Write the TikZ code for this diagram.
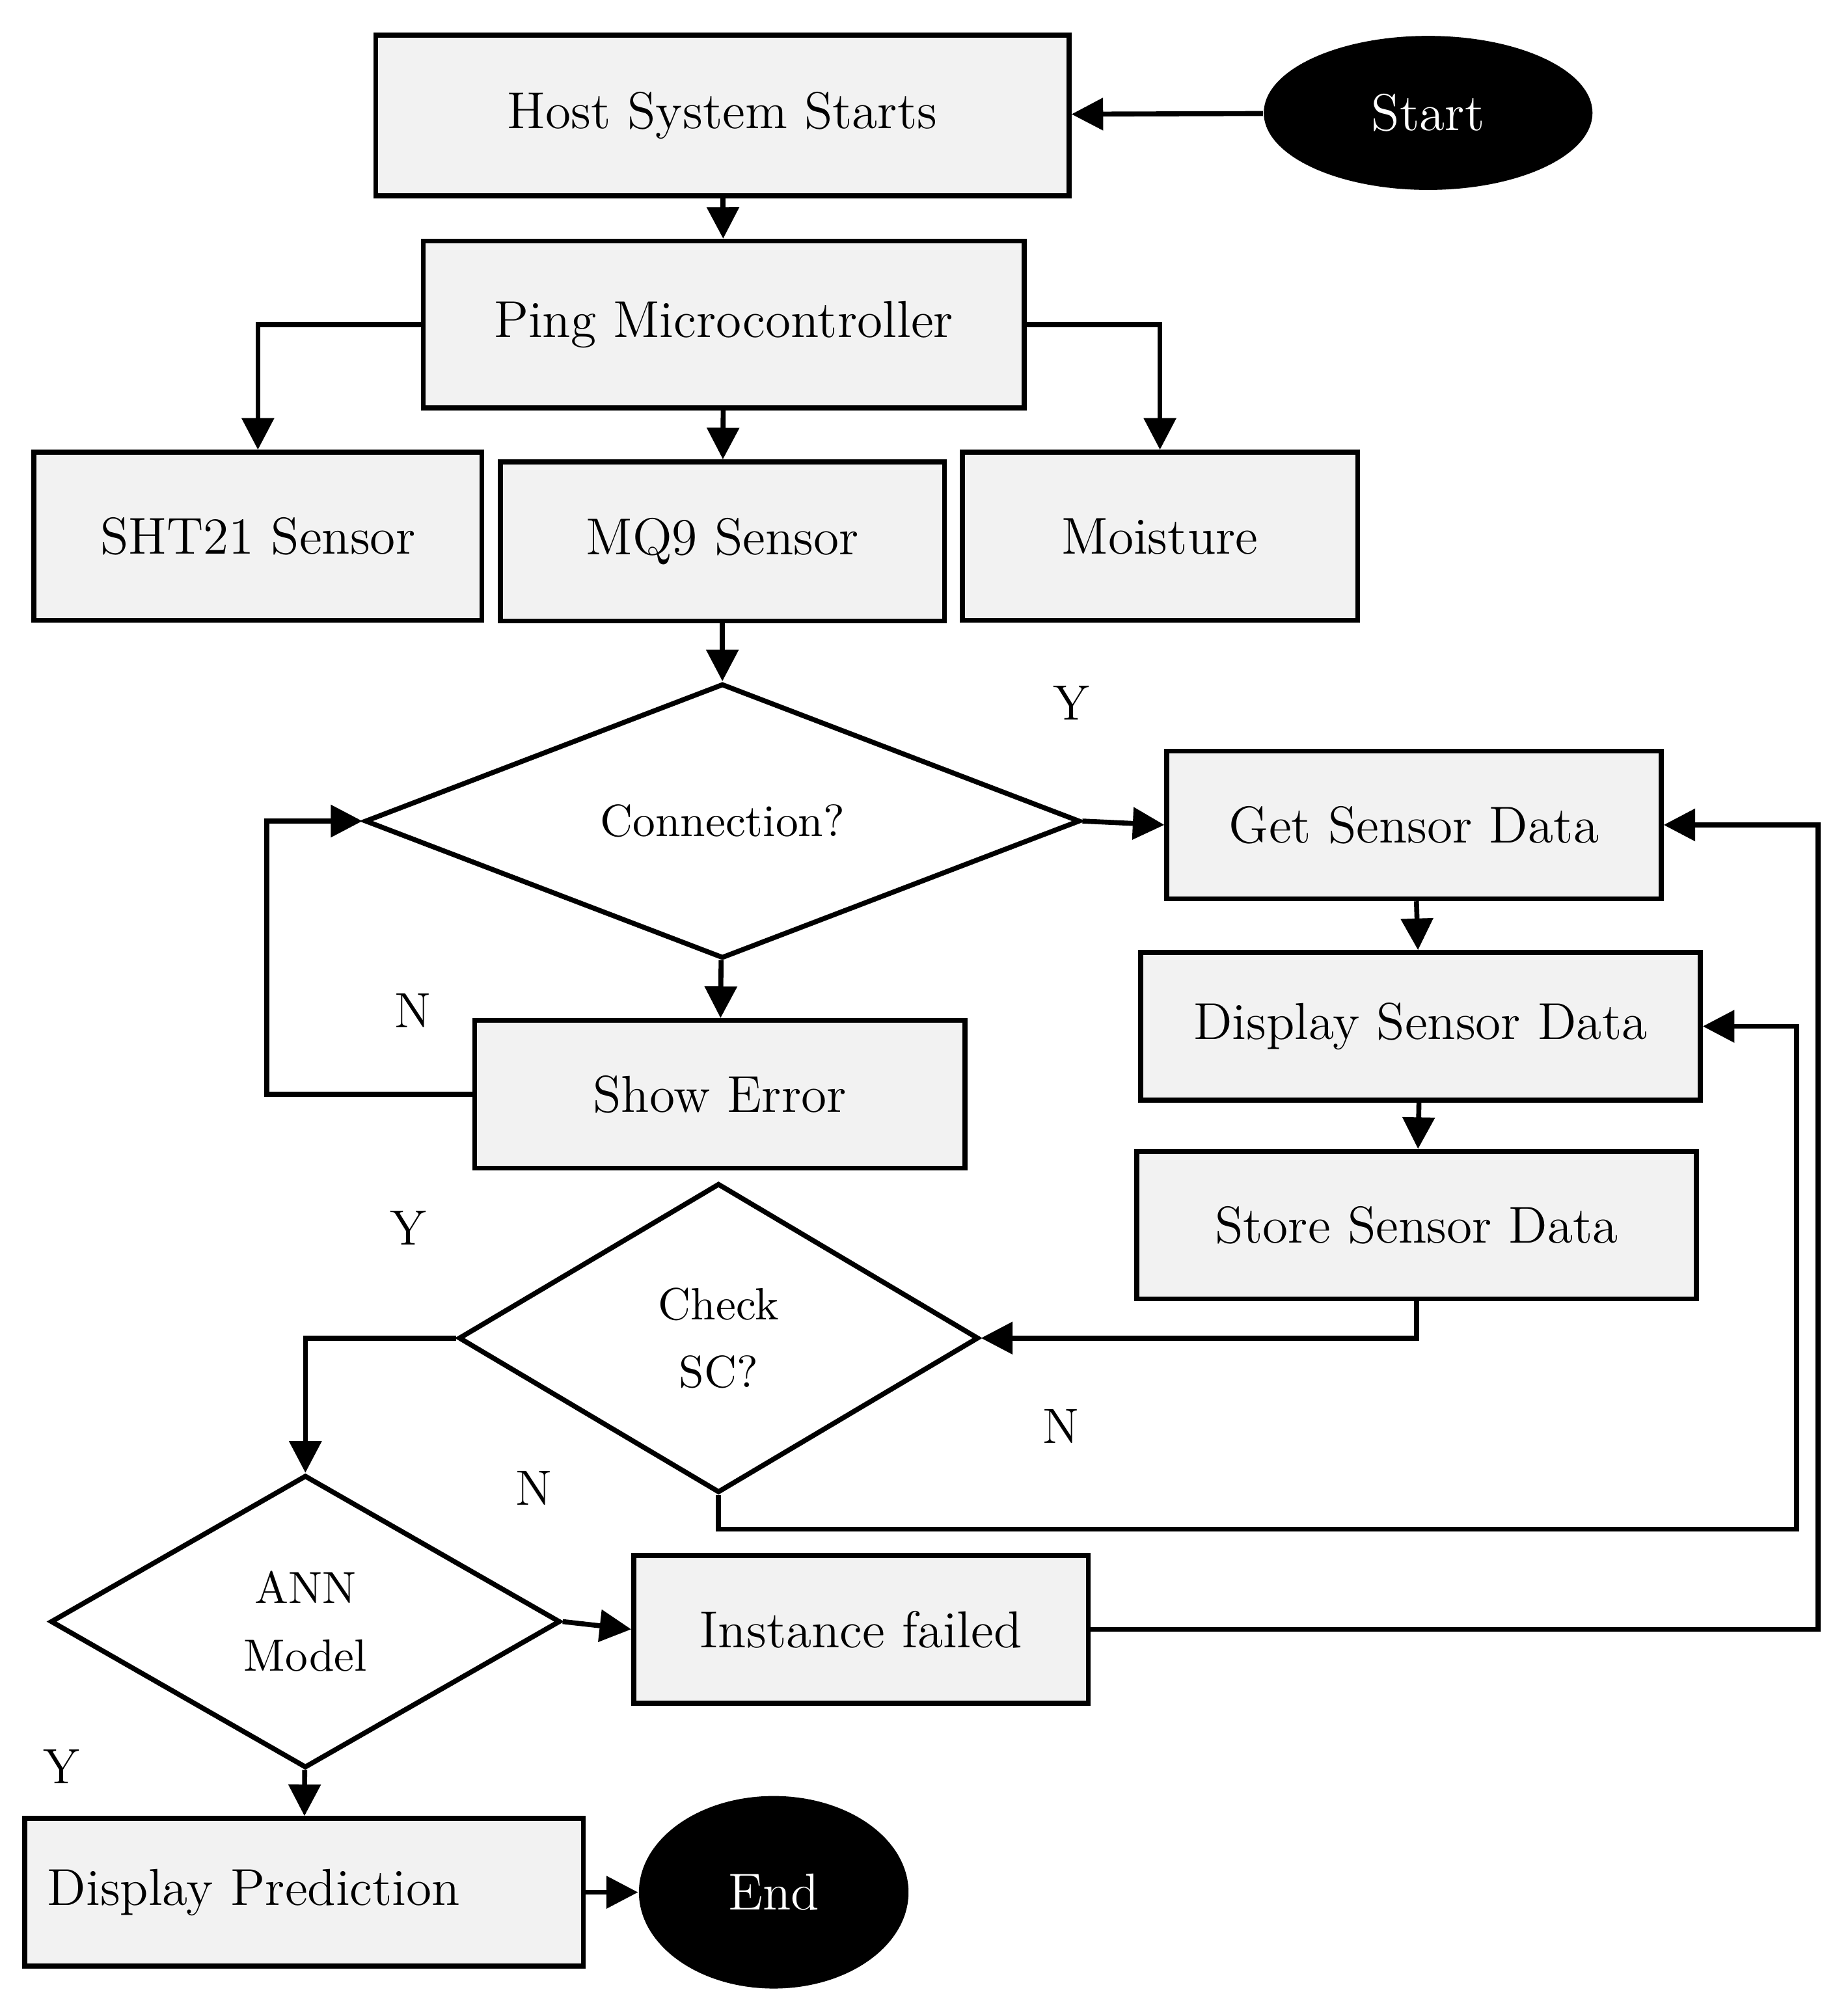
\documentclass[tikz,border=0pt]{standalone}
\usepackage{tikz}
\usetikzlibrary{positioning,shapes.geometric,arrows.meta}
\definecolor{boxgray}{HTML}{F2F2F2}
\tikzset{
  box/.style={draw, line width=1.1pt, fill=boxgray, inner sep=0pt, font=\fontsize{11.5}{13}\selectfont},
  dec/.style={draw, line width=1.1pt, diamond, aspect=2.4, inner sep=0pt, align=center, font=\fontsize{10}{15}\selectfont},
  term/.style={ellipse, fill=black, text=white, inner sep=0pt, font=\fontsize{11.5}{13}\selectfont},
  flow/.style={-{Triangle[length=7pt,width=7pt]}, line width=1.1pt},
  lbl/.style={font=\fontsize{11}{13}\selectfont}
}
\begin{document}
\begin{tikzpicture}[x=0.01cm,y=-0.01cm]
  \useasboundingbox (0,0) rectangle (1440,1566);

  \node[box, minimum width=5.4cm, minimum height=1.25cm] at (563,90) (host) {Host System Starts};
  \node[term, minimum width=2.56cm, minimum height=1.2cm] at (1113,88) (start) {Start};
  \node[box, minimum width=4.68cm, minimum height=1.3cm] at (564,253) (ping) {Ping Microcontroller};
  \node[box, minimum width=3.49cm, minimum height=1.31cm] at (201,418) (sht) {SHT21 Sensor};
  \node[box, minimum width=3.46cm, minimum height=1.24cm] at (563,422) (mq) {MQ9 Sensor};
  \node[box, minimum width=3.08cm, minimum height=1.31cm] at (904,418) (moist) {Moisture};

  \node[dec, minimum width=5.57cm, minimum height=2.14cm] at (563,640) (conn) {Connection?};
  \node[box, minimum width=3.85cm, minimum height=1.15cm] at (1102,643) (get) {Get Sensor Data};
  \node[box, minimum width=4.36cm, minimum height=1.15cm] at (1107,800) (disp) {Display Sensor Data};
  \node[box, minimum width=4.36cm, minimum height=1.15cm] at (1104,955) (store) {Store Sensor Data};
  \node[box, minimum width=3.82cm, minimum height=1.15cm] at (561,853) (err) {Show Error};

  \node[dec, minimum width=4.05cm, minimum height=2.41cm] at (560,1043) (check) {Check\\SC?};
  \node[dec, minimum width=3.97cm, minimum height=2.28cm] at (238,1264) (ann) {ANN\\Model};
  \node[box, minimum width=3.54cm, minimum height=1.15cm] at (671,1270) (fail) {Instance failed};
  \node[box, minimum width=4.35cm, minimum height=1.15cm, text width=4.0cm] at (237,1475) (pred) {Display Prediction};
  \node[term, minimum width=2.1cm, minimum height=1.5cm] at (603,1475) (end) {End};

  \coordinate (c1) at (208,853);
  \coordinate (c2) at (208,640);
  \coordinate (c3) at (1400,1192);
  \coordinate (c4) at (1417,1270);

  \draw[flow] (start) -- (host);
  \draw[flow] (host) -- (ping);
  \draw[flow] (ping.west) -| (sht.north);
  \draw[flow] (ping) -- (mq);
  \draw[flow] (ping.east) -| (moist.north);
  \draw[flow] (mq) -- (conn);
  \draw[flow] (conn.east) -- (get.west);
  \draw[flow] (conn) -- (err);
  \draw[flow] (err.west) -- (c1) -- (c2) -- (conn.west);
  \draw[flow] (get) -- (disp);
  \draw[flow] (disp) -- (store);
  \draw[flow] (store.south) |- (check.east);
  \draw[flow] (check.west) -| (ann.north);
  \draw[flow] (check.south) |- (c3) |- (disp.east);
  \draw[flow] (ann.east) -- (fail.west);
  \draw[flow] (fail.east) -- (c4) |- (get.east);
  \draw[flow] (ann) -- (pred);
  \draw[flow] (pred) -- (end);

  \node[lbl] at (835,548) (y1) {Y};
  \node[lbl] at (322,788) (n1) {N};
  \node[lbl] at (318,957) (y2) {Y};
  \node[lbl] at (827,1112) (n2) {N};
  \node[lbl] at (416,1160) (n3) {N};
  \node[lbl] at (48,1377) (y3) {Y};
\end{tikzpicture}
\end{document}
